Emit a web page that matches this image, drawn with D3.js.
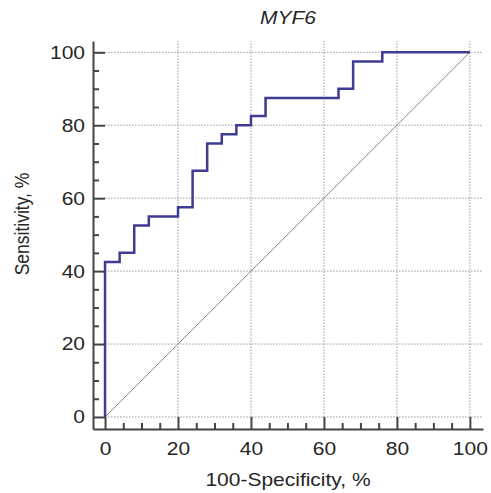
<!DOCTYPE html>
<html><head><meta charset="utf-8">
<script src="https://cdn.jsdelivr.net/npm/d3@7"></script>
<style>
html,body{margin:0;padding:0;background:#fff;}
text{font-family:"Liberation Sans",Arial,sans-serif;}
</style></head>
<body><svg id="c" width="491" height="493"></svg>
<script>
// ROC curve points (100-Specificity %, Sensitivity %)
const fpr = [0, 0, 4, 8, 12, 20, 24, 28, 32, 36, 40, 44, 64, 68, 76, 100];
const tpr = [0, 42.5, 45, 52.5, 55, 57.5, 67.5, 75, 77.5, 80, 82.5, 87.5, 90, 97.5, 100, 100];
const majorTicks = [0, 20, 40, 60, 80, 100];
const minorTicks = [5, 10, 15, 25, 30, 35, 45, 50, 55, 65, 70, 75, 85, 90, 95];
const title = "MYF6";
const xTitle = "100-Specificity, %";
const yTitle = "Sensitivity, %";

const svg = d3.select("#c");
const x = d3.scaleLinear().domain([-3.3, 103.6]).range([93, 483]);
const y = d3.scaleLinear().domain([-3.3, 103.1]).range([429, 41]);
const axisColor = "#444";
const stretch = 1.2;

// grid
const grid = svg.append("g");
grid.selectAll(".gv").data(majorTicks.filter(d => d > 0)).join("line")
  .attr("x1", d => x(d)).attr("x2", d => x(d))
  .attr("y1", y(0)).attr("y2", y.range()[1])
  .attr("stroke", "#9a9a9a").attr("stroke-width", 1).attr("stroke-dasharray", "1.5,1.5");
grid.selectAll(".gh").data(majorTicks).join("line")
  .attr("y1", d => y(d)).attr("y2", d => y(d))
  .attr("x1", x(0)).attr("x2", x.range()[1])
  .attr("stroke", "#9a9a9a").attr("stroke-width", 1).attr("stroke-dasharray", "1.5,1.5");

// diagonal
svg.append("line")
  .attr("x1", x(0)).attr("y1", y(0)).attr("x2", x(100)).attr("y2", y(100))
  .attr("stroke", "#8a8a8a").attr("stroke-width", 1);

// axes
function styleAxis(g) {
  g.selectAll("path.domain").attr("stroke", axisColor).attr("stroke-width", 2);
  g.selectAll(".tick line").attr("stroke", axisColor).attr("stroke-width", 2);
}
const xAxisG = svg.append("g").attr("transform", `translate(0,${y.range()[0]})`)
  .call(d3.axisBottom(x).tickValues(majorTicks).tickSizeInner(-12).tickSizeOuter(0).tickFormat(d3.format("d")));
styleAxis(xAxisG);
xAxisG.selectAll(".tick text")
  .attr("y", 26).attr("dy", 0)
  .attr("transform", `scale(${stretch},1)`)
  .style("font-size", "17.5px").attr("fill", "#262626");
const xMinorG = svg.append("g").attr("transform", `translate(0,${y.range()[0]})`)
  .call(d3.axisBottom(x).tickValues(minorTicks).tickSizeInner(-6).tickSizeOuter(0).tickFormat(""));
xMinorG.select("path.domain").remove();
styleAxis(xMinorG);

const yAxisG = svg.append("g").attr("transform", `translate(${x.range()[0]},0)`)
  .call(d3.axisLeft(y).tickValues(majorTicks).tickSizeInner(-12).tickSizeOuter(0).tickFormat(d3.format("d")));
styleAxis(yAxisG);
yAxisG.selectAll(".tick text")
  .attr("x", -8 / stretch).attr("dy", "0.34em")
  .attr("transform", `scale(${stretch},1)`)
  .style("font-size", "17.5px").attr("fill", "#262626");
const yMinorG = svg.append("g").attr("transform", `translate(${x.range()[0]},0)`)
  .call(d3.axisLeft(y).tickValues(minorTicks).tickSizeInner(-6).tickSizeOuter(0).tickFormat(""));
yMinorG.select("path.domain").remove();
styleAxis(yMinorG);
xAxisG.selectAll("text").attr("font-family", null);
yAxisG.selectAll("text").attr("font-family", null);
xAxisG.attr("font-family", null).attr("font-size", null);
yAxisG.attr("font-family", null).attr("font-size", null);

// ROC curve
const pts = fpr.map((d, i) => [d, tpr[i]]);
svg.append("path").datum(pts)
  .attr("d", d3.line().x(d => x(d[0])).y(d => y(d[1])).curve(d3.curveStepAfter))
  .attr("fill", "none").attr("stroke", "#3e3b92").attr("stroke-width", 2.5);

// titles
const cx = (x.range()[0] + x.range()[1]) / 2;
svg.append("text").text(title)
  .attr("transform", `translate(${cx},24) scale(${stretch},1)`)
  .attr("text-anchor", "middle").style("font-size", "17.5px").style("font-style", "italic")
  .attr("fill", "#262626");
svg.append("text").text(xTitle)
  .attr("transform", `translate(${cx},486) scale(${stretch},1)`)
  .attr("text-anchor", "middle").style("font-size", "17.5px").attr("fill", "#262626");
svg.append("text").text(yTitle)
  .attr("transform", `translate(29,224) scale(${stretch},1) rotate(-90)`)
  .attr("text-anchor", "middle").style("font-size", "17.5px").attr("fill", "#262626");
</script></body></html>
